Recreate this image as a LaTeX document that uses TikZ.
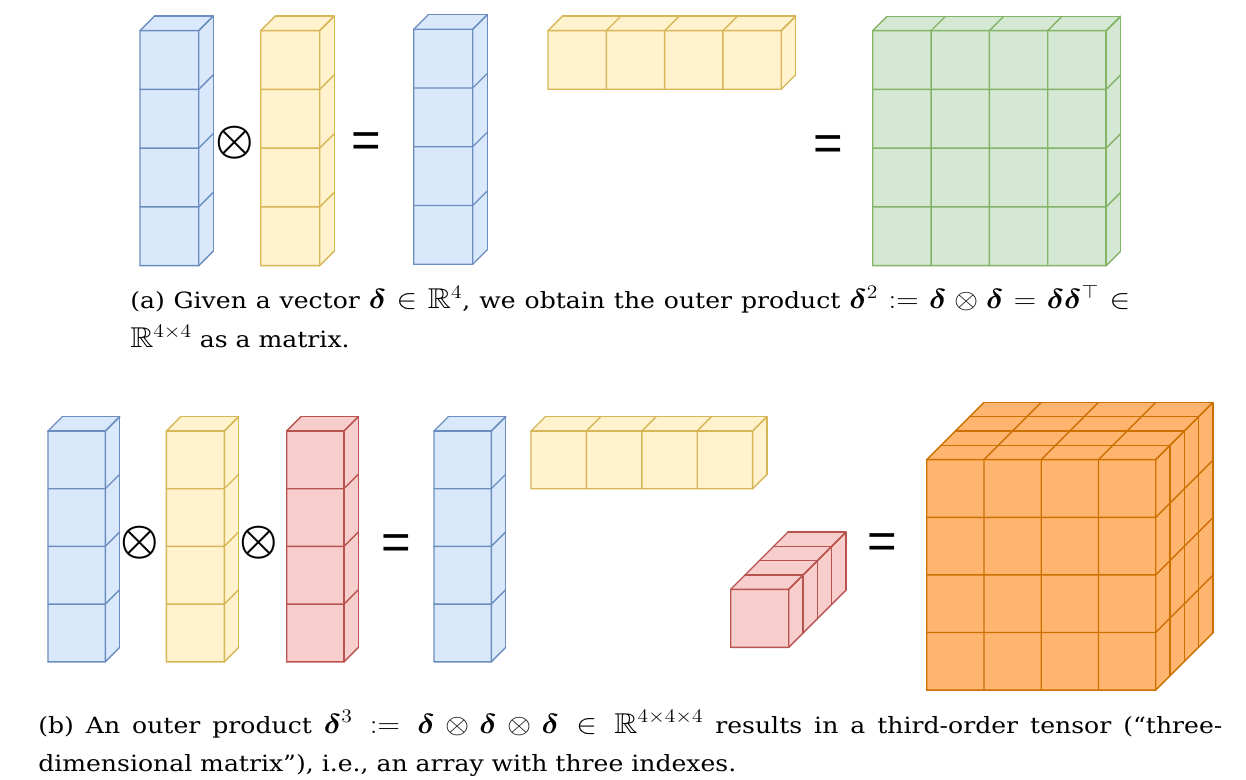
\documentclass[tikz,border=0pt]{standalone}
\usepackage{amsmath,amssymb,bm}
\usepackage{fontspec}
\newfontfamily\capfnt{DejaVu Serif}
\newfontfamily\eqfnt{Liberation Sans}
\definecolor{bluef}{HTML}{DAE8FC}\definecolor{blues}{HTML}{6C8EBF}
\definecolor{yelf}{HTML}{FFF2CC}\definecolor{yels}{HTML}{D6B656}
\definecolor{redf}{HTML}{F8CECC}\definecolor{reds}{HTML}{B85450}
\definecolor{grnf}{HTML}{D5E8D4}\definecolor{grns}{HTML}{82B366}
\definecolor{orgf}{HTML}{FFB570}\definecolor{orgs}{HTML}{CC7000}
\newcommand\mth[1]{{\fontsize{21.5}{22}\selectfont$#1$}}
\tikzset{
  cellblue/.style={fill=bluef,draw=blues},
  cellyel/.style={fill=yelf,draw=yels},
  cellred/.style={fill=redf,draw=reds},
  cellgrn/.style={fill=grnf,draw=grns},
  cellorg/.style={fill=orgf,draw=orgs},
  eqsign/.style={inner sep=0pt,font={\eqfnt\fontsize{38}{40}\selectfont}},
  otsign/.style={inner sep=0pt,font={\fontsize{34}{36}\selectfont}},
  captxt/.style={inner sep=0pt,anchor=base west,font={\capfnt\fontsize{16.8}{20}\selectfont}}
}
% x0, y0 (px), nx, ny, nz, cell width, cell height, depth per layer (px), style
\newcommand\tbox[9]{%
\begin{scope}[shift={(#1,#2)},x={(#6*0.75pt,0pt)},y={(0pt,-#7*0.75pt)},z={(#8*0.75pt,#8*0.75pt)},#9,line width=1.05pt,line join=round,line cap=round]
\fill (0,0,0)--(#3,0,0)--(#3,#4,0)--(0,#4,0)--cycle;
\fill (0,0,0)--(#3,0,0)--(#3,0,#5)--(0,0,#5)--cycle;
\fill (#3,0,0)--(#3,#4,0)--(#3,#4,#5)--(#3,0,#5)--cycle;
\foreach \i in {0,...,#3} {\draw (\i,0,0)--(\i,#4,0) (\i,0,0)--(\i,0,#5);}
\foreach \j in {0,...,#4} {\draw (0,\j,0)--(#3,\j,0) (#3,\j,0)--(#3,\j,#5);}
\foreach \k in {0,...,#5} {\draw (0,0,\k)--(#3,0,\k) (#3,0,\k)--(#3,#4,\k);}
\end{scope}}
\begin{document}
\begin{tikzpicture}[x=0.75pt,y=-0.75pt]
\useasboundingbox (0,0) rectangle (1246,780);
% ---- (a)
\tbox{140}{30.7}{1}{4}{1}{58.7}{58.75}{14.5}{cellblue}
\tbox{260.7}{30.7}{1}{4}{1}{59}{58.75}{14.5}{cellyel}
\tbox{413.7}{29.3}{1}{4}{1}{59}{58.75}{14.5}{cellblue}
\tbox{548}{30.7}{4}{1}{1}{58.3}{58.6}{14.5}{cellyel}
\tbox{872.7}{30.7}{4}{4}{1}{58.35}{58.75}{14.3}{cellgrn}
\node[otsign] (ota) at (234.3,142.7) {\scalebox{1.3}{$\bm{\otimes}$}};
\node[eqsign] (eqa1) at (366,145) {=};
\node[eqsign] (eqa2) at (828,147.7) {=};
\node[captxt] (capa1) at (130,309) {\scalebox{1.12}[1]{\makebox[669.6pt][s]{(a) Given a vector \mth{\bm{\delta}\in\mathbb{R}^4}, we obtain the outer product \mth{\bm{\delta}^2 := \bm{\delta}\otimes\bm{\delta} = \bm{\delta}\bm{\delta}^\top \in}}}};
\node[captxt] (capa2) at (130,348) {\scalebox{1.12}[1]{\mth{\mathbb{R}^{4\times 4}} as a matrix.}};
% ---- (b)
\tbox{48}{431}{1}{4}{1}{57.3}{57.7}{14.3}{cellblue}
\tbox{166.3}{431}{1}{4}{1}{58}{57.7}{14.3}{cellyel}
\tbox{286.7}{431}{1}{4}{1}{57.3}{57.7}{14.3}{cellred}
\tbox{434}{431}{1}{4}{1}{57.3}{57.7}{14.3}{cellblue}
\tbox{531}{431}{4}{1}{1}{55.4}{57.7}{14.2}{cellyel}
\tbox{730.7}{589.3}{1}{1}{4}{58}{58}{14.3}{cellred}
\tbox{926.7}{459.7}{4}{4}{4}{57.25}{57.6}{14.3}{cellorg}
\node[otsign] (otb1) at (140,542.7) {\scalebox{1.3}{$\bm{\otimes}$}};
\node[otsign] (otb2) at (259,542.7) {\scalebox{1.3}{$\bm{\otimes}$}};
\node[eqsign] (eqb1) at (396,547) {=};
\node[eqsign] (eqb2) at (882.5,546) {=};
\node[captxt] (capb1) at (38,733) {\scalebox{1.12}[1]{\makebox[792.9pt][s]{(b) An outer product \mth{\bm{\delta}^3 := \bm{\delta}\otimes\bm{\delta}\otimes\bm{\delta} \in \mathbb{R}^{4\times4\times4}} results in a third-order tensor (“three-}}};
\node[captxt] (capb2) at (38,771) {\scalebox{1.12}[1]{dimensional matrix”), i.e., an array with three indexes.}};
\end{tikzpicture}
\end{document}
